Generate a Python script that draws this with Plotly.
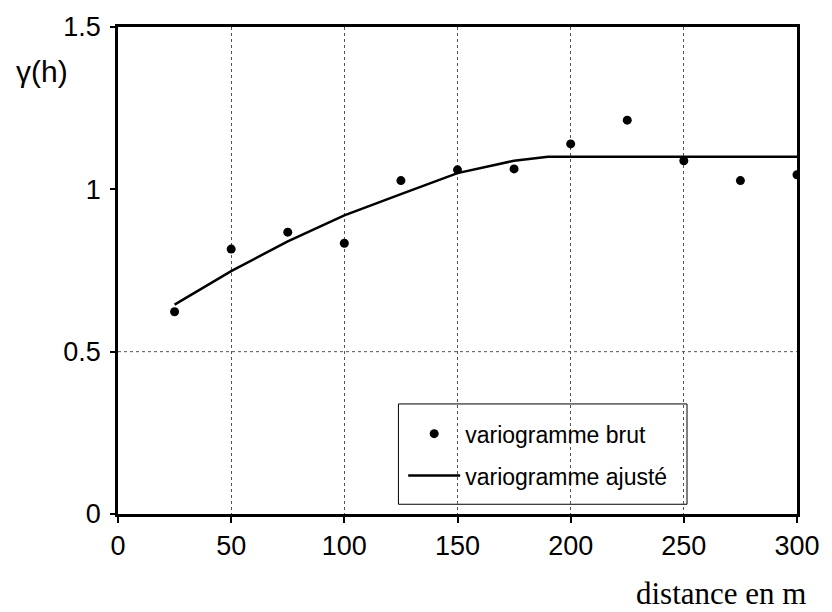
import plotly.graph_objects as go

# Experimental variogram (lag distance in m, semivariance)
lag_h = [25, 50, 75, 100, 125, 150, 175, 200, 225, 250, 275, 300]
gamma_brut = [0.623, 0.816, 0.868, 0.834, 1.027, 1.060, 1.063, 1.140, 1.213, 1.088, 1.027, 1.045]

# Fitted variogram model
fit_h = [25, 50, 75, 100, 125, 150, 175, 190, 200, 225, 250, 275, 300]
gamma_fit = [0.645, 0.748, 0.840, 0.920, 0.985, 1.050, 1.088, 1.100, 1.100, 1.100, 1.100, 1.100, 1.100]

x_ticks = [0, 50, 100, 150, 200, 250, 300]
y_ticks = [0, 0.5, 1, 1.5]
y_ticktext = ["0", "0.5", "1", "1.5"]

fig = go.Figure()

fig.add_trace(go.Scatter(
    x=lag_h, y=gamma_brut, mode="markers", name="variogramme brut",
    marker=dict(color="black", size=9, symbol="circle"),
    legendgroup="a",
))
fig.add_trace(go.Scatter(
    x=fit_h, y=gamma_fit, mode="lines", name="variogramme ajusté",
    line=dict(color="black", width=2.5),
    legendgroup="b",
))

# dotted horizontal reference at 0.5
fig.add_shape(type="line", xref="x", yref="y", x0=x_ticks[0], x1=x_ticks[-1],
              y0=y_ticks[1], y1=y_ticks[1],
              line=dict(color="#555", width=1, dash="dot"), layer="below")

# legend frame
fig.add_shape(type="rect", xref="paper", yref="paper",
              x0=0.413, x1=0.838, y0=0.020, y1=0.226,
              line=dict(color="black", width=1), fillcolor="white", layer="below")

fig.update_layout(
    width=832, height=612,
    margin=dict(l=118, r=34, t=23, b=98),
    paper_bgcolor="white", plot_bgcolor="white",
    font=dict(family="Liberation Sans, Arial, sans-serif", color="black", size=27),
    showlegend=True,
    legend=dict(
        x=0.420, y=0.209, xanchor="left", yanchor="top",
        bgcolor="rgba(0,0,0,0)", borderwidth=0,
        font=dict(size=23), tracegroupgap=9,
        itemwidth=52,
    ),
    xaxis=dict(
        range=[0, 300], tickvals=x_ticks, ticks="outside", ticklen=6,
        tickcolor="black", tickwidth=1.5,
        showline=True, linecolor="black", linewidth=2.5, mirror=True,
        showgrid=True, gridcolor="#555", griddash="dot", gridwidth=1,
        zeroline=False, tickfont=dict(size=27), layer="above traces",
    ),
    yaxis=dict(
        range=[0, 1.5], tickvals=y_ticks, ticktext=y_ticktext,
        ticks="outside", ticklen=5, tickcolor="black", tickwidth=1.5,
        showline=True, linecolor="black", linewidth=2.5, mirror=True,
        showgrid=False, zeroline=False, tickfont=dict(size=27),
        ticklabelstandoff=4,
    ),
    annotations=[
        dict(text="γ(h)", xref="paper", yref="paper", x=-0.153, y=0.908,
             xanchor="left", yanchor="middle", showarrow=False,
             font=dict(size=30, family="Liberation Sans, Arial, sans-serif")),
        dict(text="distance en m", xref="paper", yref="paper", x=1.016, y=-0.164,
             xanchor="right", yanchor="middle", showarrow=False,
             font=dict(size=31, family="Liberation Serif, Times New Roman, serif")),
    ],
)

fig.write_html("out.html")
